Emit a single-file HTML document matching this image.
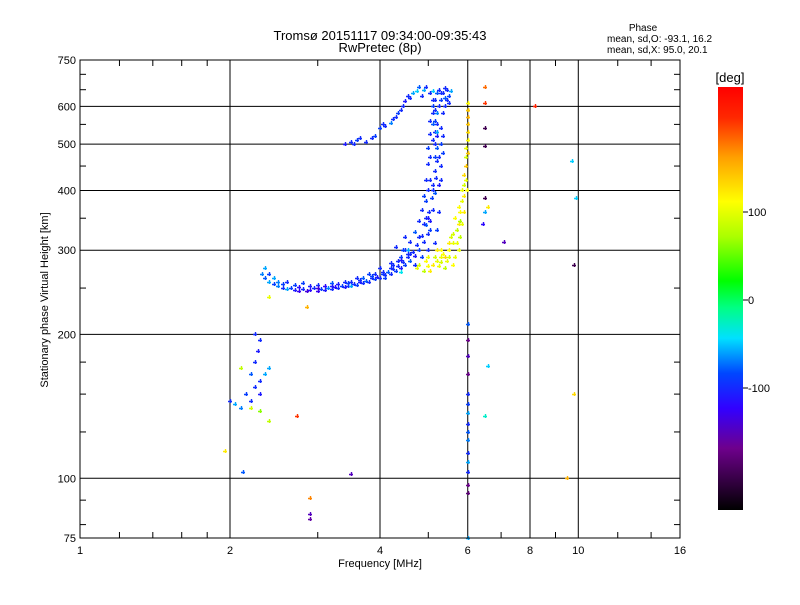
<!DOCTYPE html>
<html><head><meta charset="utf-8"><style>
body{margin:0;background:#fff;}
svg text{font-family:"Liberation Sans",sans-serif;fill:#000;}
</style></head><body>
<svg id="chart" width="800" height="600" xmlns="http://www.w3.org/2000/svg">
<rect width="800" height="600" fill="#fff"/>
<text x="380" y="40" font-size="13" text-anchor="middle">Tromsø 20151117 09:34:00-09:35:43</text>
<text x="380" y="52" font-size="13" text-anchor="middle">RwPretec (8p)</text>
<text x="643" y="31" font-size="10" text-anchor="middle">Phase</text>
<text x="607" y="42" font-size="10">mean, sd,O: -93.1, 16.2</text>
<text x="607" y="53" font-size="10">mean, sd,X:  95.0, 20.1</text>
<text transform="translate(48,300) rotate(-90)" font-size="11" text-anchor="middle">Stationary phase Virtual Height [km]</text>
<text x="380" y="567" font-size="11" text-anchor="middle">Frequency [MHz]</text>
<g id="grid"></g>
<g id="marks"></g>
<rect x="80" y="60" width="600" height="478" fill="none" stroke="#000" stroke-width="1"/>
<defs><linearGradient id="cb" x1="0" y1="1" x2="0" y2="0"></linearGradient></defs>
<rect id="cbrect" x="718" y="87" width="25" height="423" fill="url(#cb)"/>
<text x="730" y="82" font-size="13" text-anchor="middle">[deg]</text>
<g id="cbticks"></g>
</svg>
<script>
const xTicks=[1,2,4,6,8,10,16];
const xGrid=[2,4,6,8,10];
const yTicks=[75,100,200,300,400,500,600,750];
const yGrid=[100,200,300,400,500,600];
const cbTicks=[100,0,-100];
const freqs=[2.32,2.35,2.4,2.45,2.5,2.55,2.6,2.65,2.7,2.75,2.8,2.85,2.9,2.95,3.0,3.05,3.1,3.15,3.2,3.25,3.3,3.35,3.4,3.45,3.5,3.55,3.6,3.65,3.7,3.75,3.8,3.85,3.9,3.95,4.0,4.05,4.1,4.15,4.2,4.25,4.3,4.35,4.4,4.45,4.5,4.55,4.6,4.65,4.7,4.75,4.8,4.85,4.9,4.95,5.0,5.02,5.05,5.08,5.1,5.12,5.15,5.15,5.18,5.15,5.2,5.15,5.2,5.15,5.2,5.15,5.2,5.15,5.2,5.15,5.2,5.1,5.25,5.3,5.45,5.5,5.55,5.5,
2.4,2.6,2.8,3.0,3.2,3.4,3.6,3.8,4.0,4.2,4.4,4.5,4.6,4.7,4.8,4.85,4.9,4.95,5.0,5.0,5.05,5.05,5.1,
3.4,3.5,3.6,3.75,3.85,4.0,4.1,4.2,4.3,4.4,4.5,4.6,4.75,4.9,
4.3,4.5,4.55,4.4,
4.75,4.9,5.0,5.1,5.2,5.3,5.4,5.5,5.6,5.7,5.75,5.8,5.85,5.9,5.95,5.95,6.0,6.0,6.0,5.0,5.3,5.55,5.65,5.8,5.9,5.6,5.4,
2.25,2.3,2.28,2.25,2.2,2.3,2.35,2.25,2.15,2.2,2.05,2.0,2.1,2.2,2.3,2.4,2.1,2.3,2.4,1.95,2.12,2.72,2.85,2.9,2.9,2.9,3.5,
6,6,6,6,6,6,6,6,6,6,6,6,6,6,6,6,
6.5,6.5,6.5,6.5,6.5,6.5,6.45,6.6,6.5,6.6,7.1,8.2,9.7,9.9,9.8,9.8,9.5,6.0,2.4,
4.95,5.05,5.1,5.25,5.3,5.3,5.3,5.35,5.3,5.4,5.05,5.0,4.95,5.05,5.1,5.1,5.1,5.1,5.25,5.2,5.15,5.0,4.85,4.7,5.35,5.4,5.25,5.2,5.25,5.3,5.35,5.35,5.0,4.9,4.8,4.6,4.45,4.35,4.2,4.1,3.9,3.7,3.5,3.3,3.1,2.9,2.7,2.5,2.35,2.45,2.55,2.75,3.0,3.2,3.45,3.65,3.85,4.05,4.25,4.4,4.55,
3.55,3.65,3.9,4.05,4.25,4.35,4.45,4.55,4.65,4.8,4.85,4.95,5.05,5.4,5.45,
4.8,4.95,5.05,5.15,5.25,5.35,5.45,5.5,5.6,5.65,5.7,5.75,5.8,5.85,5.9,5.9,5.95,5.95,6.0,6.0,5.97,5.85,5.5,5.3,5.2,6.0,6.0,5.75];
const heights=[268,262,258,255,252,250,249,250,248,247,249,247,248,250,247,249,248,250,249,251,250,252,251,253,252,255,254,257,256,259,258,262,261,264,262,267,266,270,268,274,271,278,275,283,280,290,285,298,292,308,300,322,312,338,325,360,345,385,365,410,395,440,425,470,460,500,490,530,520,560,550,590,580,620,640,645,650,640,650,630,645,610,
268,258,256,254,256,258,262,268,275,282,290,300,312,328,345,365,390,420,455,490,525,560,600,
500,505,510,505,515,540,545,555,570,590,615,625,645,650,
305,320,300,270,
275,272,278,280,285,283,290,300,310,330,340,360,380,410,450,490,530,570,590,290,300,320,290,345,390,280,275,
200,195,185,175,165,160,165,155,150,145,143,145,140,140,138,170,170,150,132,114,103,135,228,91,84,82,102,
210,195,180,165,150,143,137,130,125,120,113,108,103,97,93,75,
660,610,540,495,385,360,340,370,135,172,312,600,460,385,280,150,100,590,240,
350,330,400,410,450,500,540,580,620,600,420,400,380,470,510,550,580,620,360,330,310,300,290,280,640,625,600,530,470,420,480,520,350,340,320,295,300,285,275,262,268,262,258,255,253,252,254,258,275,262,255,251,250,252,256,260,265,270,280,286,295,
500,515,520,550,565,580,600,630,640,660,630,660,640,655,620,
280,285,272,290,278,295,285,310,325,350,310,370,320,400,360,430,420,470,510,480,400,340,290,290,300,550,610,300];
const phases=[-70,-80,-60,-90,-70,-100,-60,-90,-110,-130,-100,-140,-120,-100,-130,-90,-110,-70,-100,-120,-100,-90,-110,-100,-60,-100,-90,-110,-100,-80,-100,-100,-90,-110,-100,-90,-100,-80,-100,-100,-90,-100,-110,-100,-90,-100,-80,-100,-110,-100,-90,-100,-100,-80,-100,-100,-110,-90,-100,-100,-80,-100,-100,-90,-100,-100,-80,-100,-110,-90,-100,-100,-70,-100,-80,-50,-100,-100,-100,-90,-60,-100,
-90,-100,-90,-100,-80,-100,-100,-90,-100,-100,-90,-100,-100,-80,-100,-100,-90,-100,-100,-90,-100,-100,-90,
-110,-100,-90,-100,-100,-90,-100,-70,-100,-100,-110,-100,-50,-60,
-100,-100,-60,-40,
100,80,110,120,100,90,130,110,100,80,120,110,100,90,140,100,130,150,120,100,110,90,100,70,120,110,80,
-100,-100,-110,-100,-80,-100,-60,-100,-90,-100,-60,-100,-70,90,60,-60,80,-110,80,120,-80,200,150,170,-150,-160,-150,
-80,-170,-150,-170,-100,-90,-60,-100,-80,-70,-100,-60,-100,-170,-180,-60,
180,200,-200,-200,-200,-60,-120,120,-30,-50,-150,210,-50,-50,-200,130,150,140,100,
-100,-90,-100,-110,-100,-90,-100,-100,-90,-100,-100,-100,-90,-100,-100,-80,-100,-100,-100,-90,-100,-100,-90,-100,-100,-80,-100,-60,-100,-100,-90,-100,-110,-100,-100,-100,-90,-100,-100,-90,-100,-80,-100,-110,-120,-110,-90,-70,-60,-60,-90,-120,-140,-110,-90,-100,-90,-100,-100,-110,-100,
-100,-100,-90,-100,-100,-90,-100,-100,-60,-80,-100,-100,-100,-100,-100,
90,110,120,90,100,110,100,120,90,110,100,110,80,100,120,130,100,90,110,140,110,100,90,100,120,140,110,100];
const stops=[[-240,[0,0,0]],[-170,[110,0,140]],[-125,[50,0,255]],[-85,[0,70,255]],[-45,[0,225,255]],[-10,[0,255,130]],[20,[0,255,0]],[70,[170,255,0]],[110,[255,255,0]],[160,[255,160,0]],[205,[255,40,0]],[240,[255,0,0]]];
const NS='http://www.w3.org/2000/svg';
function xs(f){return 80+150*Math.log2(f);}
function ys(h){return 538-478*Math.log10(h/75);}
function cbY(p){return 300-0.88*p;}
function col(p){p=Math.max(-240,Math.min(240,p));for(let i=1;i<stops.length;i++){if(p<=stops[i][0]){const a=stops[i-1],b=stops[i],t=(p-a[0])/(b[0]-a[0]);const c=a[1].map((v,k)=>Math.round(v+(b[1][k]-v)*t));return 'rgb('+c.join(',')+')';}}return 'red';}
function mk(t,at,parent){const e=document.createElementNS(NS,t);for(const k in at)e.setAttribute(k,at[k]);parent.appendChild(e);return e;}
const grid=document.getElementById('grid');
xGrid.forEach(v=>{const l=mk('line',{x1:xs(v),x2:xs(v),y1:60,y2:538,stroke:'#000'},grid);

});
yGrid.forEach(v=>{const l=mk('line',{x1:80,x2:680,y1:ys(v),y2:ys(v),stroke:'#000'},grid);

});
[1.2,1.4,1.6,1.8,3,5,7,9,12,14].forEach(v=>{mk('line',{x1:xs(v),x2:xs(v),y1:538,y2:532,stroke:'#000'},grid);mk('line',{x1:xs(v),x2:xs(v),y1:60,y2:66,stroke:'#000'},grid);});
[80,90,125,150,175,250,350,450,550,650,700].forEach(v=>{mk('line',{x1:80,x2:86,y1:ys(v),y2:ys(v),stroke:'#000'},grid);mk('line',{x1:674,x2:680,y1:ys(v),y2:ys(v),stroke:'#000'},grid);});
xTicks.forEach(v=>{const t=mk('text',{x:xs(v),y:554,'font-size':11,'text-anchor':'middle'},grid);t.textContent=v;

});
yTicks.forEach(v=>{const t=mk('text',{x:76,y:ys(v)+4,'font-size':11,'text-anchor':'end'},grid);t.textContent=v;

});
const marks=document.getElementById('marks');
for(let i=0;i<freqs.length;i++){const x=Math.round(xs(freqs[i])),y=Math.round(ys(heights[i]));
const p=mk('path',{d:'M'+(x-2)+' '+(y+0.5)+'h4M'+(x+0.5)+' '+(y-2)+'v4',stroke:col(phases[i]),'stroke-width':1.4,fill:'none'},marks);

}
const g=document.getElementById('cb');
for(let i=0;i<stops.length;i++){const off=(cbY(-240)-cbY(stops[i][0]))/(cbY(-240)-cbY(240));mk('stop',{offset:Math.max(0,Math.min(1,off)),'stop-color':col(stops[i][0])},g);}
const cbt=document.getElementById('cbticks');
cbTicks.forEach(v=>{const y=cbY(v);mk('line',{x1:743,x2:748,y1:y,y2:y,stroke:'#000'},cbt);const t=mk('text',{x:748,y:y+4,'font-size':11},cbt);t.textContent=v;

});
</script>
</body></html>
